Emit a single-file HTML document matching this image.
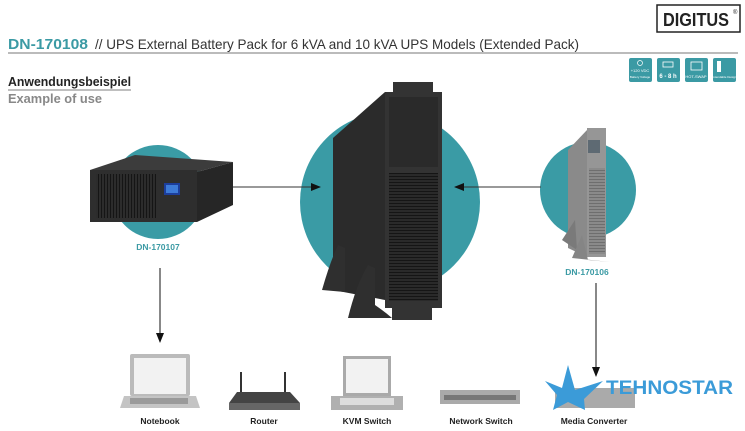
<!DOCTYPE html>
<html><head><meta charset="utf-8"><style>
html,body{margin:0;padding:0;background:#fff;}
body{width:745px;height:431px;overflow:hidden;position:relative;font-family:"Liberation Sans",sans-serif;}
</style></head><body>
<svg width="745" height="431" viewBox="0 0 745 431" xmlns="http://www.w3.org/2000/svg" style="position:absolute;left:0;top:0">
<defs>
<marker id="ah" markerWidth="10" markerHeight="8" refX="9" refY="4" orient="auto" markerUnits="userSpaceOnUse"><path d="M0,0 L10,4 L0,8 Z" fill="#111"/></marker>
<pattern id="grill" width="4" height="3" patternUnits="userSpaceOnUse"><rect width="4" height="3" fill="#2a2a2a"/><rect y="2" width="4" height="1" fill="#151515"/></pattern>
<pattern id="vgrill" width="3" height="4" patternUnits="userSpaceOnUse"><rect width="3" height="4" fill="#2c2c2c"/><rect x="2" width="1" height="4" fill="#151515"/></pattern>
<pattern id="ggrill" width="4" height="3" patternUnits="userSpaceOnUse"><rect width="4" height="3" fill="#8a8a8a"/><rect y="2" width="4" height="1" fill="#6e6e6e"/></pattern>
</defs>
<!-- Header -->
<rect x="657" y="5" width="83" height="27" fill="#fff" stroke="#222" stroke-width="1.5"/>
<text x="663" y="26" font-weight="bold" font-size="18" fill="#222" textLength="66" lengthAdjust="spacingAndGlyphs">DIGITUS</text>
<text x="733" y="14" font-size="6" fill="#222">®</text>
<text x="8" y="49" font-size="15" font-weight="bold" fill="#3b9aa4" textLength="80" lengthAdjust="spacingAndGlyphs">DN-170108</text>
<text x="95" y="49" font-size="14" fill="#333" textLength="484" lengthAdjust="spacingAndGlyphs">//  UPS External Battery Pack for 6 kVA and 10 kVA UPS Models (Extended Pack)</text>
<line x1="8" y1="53" x2="738" y2="53" stroke="#777" stroke-width="1"/>
<g fill="#3b9aa4">
<rect x="629" y="58" width="23" height="24" rx="2"/>
<rect x="657" y="58" width="23" height="24" rx="2"/>
<rect x="685" y="58" width="23" height="24" rx="2"/>
<rect x="713" y="58" width="23" height="24" rx="2"/>
</g>
<g fill="#fff" font-size="4">
<circle cx="640" cy="63" r="2.5" fill="none" stroke="#fff" stroke-width="0.7"/>
<text x="640" y="72" text-anchor="middle">+120 VDC</text>
<text x="640" y="78" text-anchor="middle" font-size="3">Battery Voltage</text>
<rect x="663" y="62" width="10" height="5" fill="none" stroke="#fff" stroke-width="0.8"/>
<text x="668" y="78" text-anchor="middle" font-size="6" font-weight="bold">6 - 8 h</text>
<rect x="691" y="62" width="11" height="8" fill="none" stroke="#fff" stroke-width="0.8"/>
<text x="696" y="78" text-anchor="middle">HOT-SWAP</text>
<rect x="717" y="61" width="4" height="11"/>
<text x="724" y="78" text-anchor="middle" font-size="3">Extendable Design</text>
</g>
<text x="8" y="86" font-size="13" font-weight="bold" fill="#222" textLength="123" lengthAdjust="spacingAndGlyphs">Anwendungsbeispiel</text>
<line x1="8" y1="90" x2="131" y2="90" stroke="#555" stroke-width="0.8"/>
<text x="8" y="103" font-size="13" font-weight="bold" fill="#888" textLength="94" lengthAdjust="spacingAndGlyphs">Example of use</text>

<!-- circles -->
<circle cx="158" cy="192" r="47" fill="#3a9ba5"/>
<circle cx="390" cy="202" r="90" fill="#3a9ba5"/>
<circle cx="588" cy="190" r="48" fill="#3a9ba5"/>

<!-- left device -->
<polygon points="90,170 135,155 233,162 197,172" fill="#3c3c3c"/>
<polygon points="197,172 233,162 233,205 197,222" fill="#262626"/>
<rect x="90" y="170" width="107" height="52" fill="#2e2e2e"/>
<rect x="96" y="174" width="60" height="44" fill="url(#vgrill)"/>
<rect x="164" y="183" width="16" height="12" fill="#1c3e9c"/>
<rect x="166" y="185" width="12" height="8" fill="#3d7bd8"/>
<text x="158" y="250" text-anchor="middle" font-size="8.5" font-weight="bold" fill="#3b9aa4">DN-170107</text>

<!-- center tower -->
<polygon points="333,138 385,92 385,300 333,290" fill="#2b2b2b"/>
<rect x="393" y="82" width="40" height="10" fill="#333"/>
<rect x="385" y="92" width="57" height="216" fill="#333"/>
<rect x="389" y="97" width="49" height="70" fill="#2a2a2a"/>
<rect x="389" y="173" width="49" height="128" fill="url(#grill)"/>
<rect x="392" y="308" width="40" height="12" fill="#333"/>
<path d="M322,290 Q330,262 338,245 L345,248 L345,292 Z" fill="#2f2f2f"/>
<path d="M348,318 Q356,285 368,265 L375,268 L375,305 Q385,312 392,318 Z" fill="#2f2f2f"/>

<!-- right slim tower -->
<polygon points="568,150 587,130 587,257 568,248" fill="#8a8a8a"/>
<rect x="587" y="128" width="19" height="129" fill="#969696"/>
<rect x="588" y="140" width="12" height="13" fill="#5e6a73"/>
<rect x="589" y="168" width="16" height="86" fill="url(#ggrill)"/>
<polygon points="562,240 575,220 577,250" fill="#7a7a7a"/>
<polygon points="572,258 582,235 588,260 610,262" fill="#858585"/>
<text x="587" y="275" text-anchor="middle" font-size="8.5" font-weight="bold" fill="#3b9aa4">DN-170106</text>

<!-- arrows -->
<line x1="233" y1="187" x2="320" y2="187" stroke="#333" stroke-width="1" marker-end="url(#ah)"/>
<line x1="541" y1="187" x2="455" y2="187" stroke="#333" stroke-width="1" marker-end="url(#ah)"/>
<line x1="160" y1="268" x2="160" y2="342" stroke="#111" stroke-width="1" marker-end="url(#ah)"/>
<line x1="596" y1="283" x2="596" y2="376" stroke="#111" stroke-width="1" marker-end="url(#ah)"/>

<!-- notebook -->
<rect x="130" y="354" width="60" height="42" fill="#bbb" rx="2"/>
<rect x="134" y="358" width="52" height="36" fill="#f2f2f2"/>
<polygon points="124,396 196,396 200,408 120,408" fill="#c4c4c4"/>
<rect x="130" y="398" width="58" height="6" fill="#9a9a9a"/>
<text x="160" y="424" text-anchor="middle" font-size="8.5" font-weight="bold" fill="#222">Notebook</text>
<!-- router -->
<line x1="241" y1="372" x2="241" y2="395" stroke="#333" stroke-width="2"/>
<line x1="285" y1="372" x2="285" y2="395" stroke="#333" stroke-width="2"/>
<polygon points="237,392 290,392 300,403 229,403" fill="#444"/>
<rect x="229" y="403" width="71" height="7" fill="#666"/>
<text x="264" y="424" text-anchor="middle" font-size="8.5" font-weight="bold" fill="#222">Router</text>
<!-- KVM -->
<rect x="343" y="356" width="48" height="40" fill="#aaa"/>
<rect x="346" y="359" width="42" height="34" fill="#f2f2f2"/>
<rect x="331" y="396" width="72" height="14" fill="#b0b0b0"/>
<rect x="340" y="398" width="54" height="7" fill="#ddd"/>
<text x="367" y="424" text-anchor="middle" font-size="8.5" font-weight="bold" fill="#222">KVM Switch</text>
<!-- network switch -->
<rect x="440" y="390" width="80" height="14" fill="#aaa"/>
<rect x="444" y="395" width="72" height="5" fill="#777"/>
<text x="481" y="424" text-anchor="middle" font-size="8.5" font-weight="bold" fill="#222">Network Switch</text>
<!-- media converter -->
<rect x="555" y="388" width="80" height="20" fill="#aaa"/>
<polygon points="568,365 575,390 603,381 584,399 585,410 568,402 553,410 557,395 545,381 562,388" fill="#3b9bd8"/>
<text x="594" y="424" text-anchor="middle" font-size="8.5" font-weight="bold" fill="#222">Media Converter</text>
<text x="606" y="394" font-size="19" font-weight="bold" fill="#3b9bd8" textLength="127" lengthAdjust="spacingAndGlyphs">TEHNOSTAR</text>
</svg>
</body></html>
